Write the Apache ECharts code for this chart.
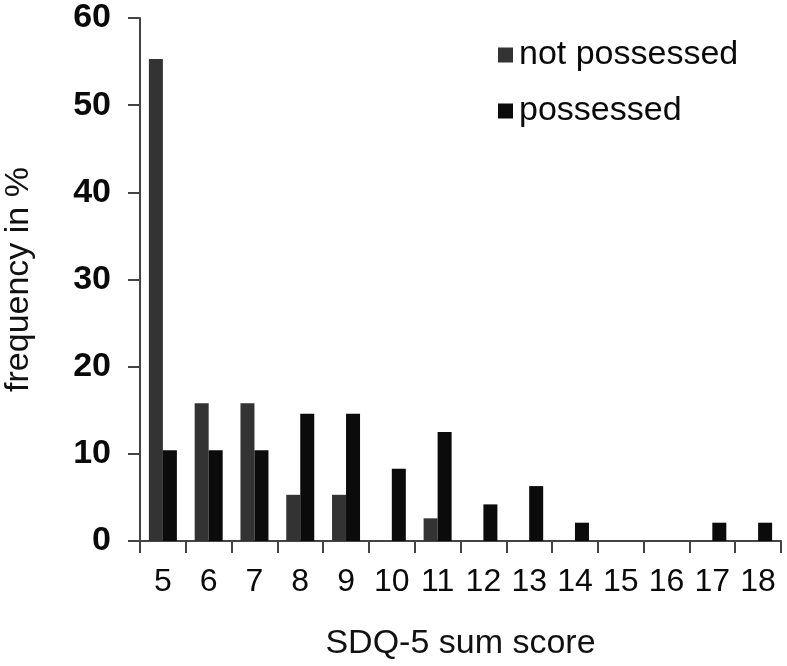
<!DOCTYPE html>
<html>
<head>
<meta charset="utf-8">
<script src="https://cdn.jsdelivr.net/npm/echarts@6/dist/echarts.min.js"></script>
<style>
  html, body { margin: 0; padding: 0; background: #fff; }
  #chart { width: 787px; height: 666px; }
</style>
</head>
<body>
<div id="chart"></div>
<script>
// SDQ-5 sum score categories
const scores = ['5', '6', '7', '8', '9', '10', '11', '12', '13', '14', '15', '16', '17', '18']
// frequency in %
const notPossessed = [55.3, 15.8, 15.8, 5.3, 5.3, 0, 2.6, 0, 0, 0, 0, 0, 0, 0]
const possessed = [10.4, 10.4, 10.4, 14.6, 14.6, 8.3, 12.5, 4.2, 6.3, 2.1, 0, 0, 2.1, 2.1]
const yTicks = { min: 0, max: 60, interval: 10 }

const font = 'Liberation Sans, Arial, sans-serif'
const axisColor = '#444'

const chart = echarts.init(document.getElementById('chart'))
chart.setOption({
  animation: false,
  textStyle: { fontFamily: font },
  legend: {
    orient: 'vertical',
    left: 493,
    top: 33,
    itemWidth: 15,
    itemHeight: 15,
    itemGap: 22,
    icon: 'rect',
    textStyle: { fontSize: 34, color: '#0a0a0a', fontFamily: font, padding: [0, 0, 0, 1] },
    data: ['not possessed', 'possessed']
  },
  grid: {
    left: 140,
    right: 6,
    top: 18,
    bottom: 125,
    containLabel: false,
    outerBoundsMode: 'none'
  },
  xAxis: {
    type: 'category',
    data: scores,
    name: 'SDQ-5 sum score',
    nameLocation: 'middle',
    nameGap: 86,
    nameTextStyle: { fontSize: 34, color: '#111', fontFamily: font },
    axisLine: { show: true, lineStyle: { color: axisColor, width: 2 } },
    axisTick: { show: true, interval: 0, alignWithLabel: false, length: 12, lineStyle: { color: axisColor, width: 2 } },
    axisLabel: { interval: 0, hideOverlap: false, fontSize: 32, color: '#0a0a0a', margin: 25, fontFamily: font }
  },
  yAxis: {
    type: 'value',
    min: yTicks.min,
    max: yTicks.max,
    interval: yTicks.interval,
    name: 'frequency in %',
    nameLocation: 'middle',
    nameGap: 104,
    nameRotate: 90,
    nameTextStyle: { fontSize: 34, color: '#111', fontFamily: font },
    splitLine: { show: false },
    axisLine: { show: true, lineStyle: { color: axisColor, width: 2 } },
    axisTick: { show: true, length: 12, lineStyle: { color: axisColor, width: 2 } },
    axisLabel: { fontSize: 34, fontWeight: 'bold', color: '#0a0a0a', margin: 29, fontFamily: font }
  },
  series: [
    {
      name: 'not possessed',
      type: 'bar',
      barWidth: 14,
      barGap: '0%',
      itemStyle: { color: '#333333' },
      data: notPossessed
    },
    {
      name: 'possessed',
      type: 'bar',
      barWidth: 14,
      barGap: '0%',
      itemStyle: { color: '#0b0b0b' },
      data: possessed
    }
  ]
})
</script>
</body>
</html>
